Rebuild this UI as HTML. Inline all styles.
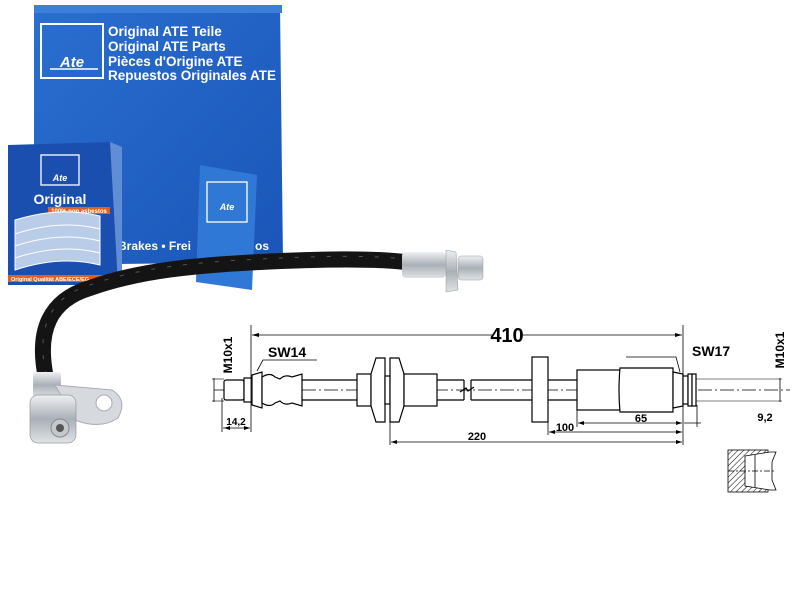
<!DOCTYPE html>
<html><head><meta charset="utf-8"><style>
html,body{margin:0;padding:0;background:#fff;}
svg{display:block;}
</style></head><body>
<svg width="810" height="610" viewBox="0 0 810 610" xmlns="http://www.w3.org/2000/svg" font-family="Liberation Sans, sans-serif">
<defs>
<linearGradient id="bl" x1="0" y1="0" x2="1" y2="1"><stop offset="0" stop-color="#2a6fd0"/><stop offset="1" stop-color="#1a55b8"/></linearGradient>
<linearGradient id="met" x1="0" y1="0" x2="0" y2="1"><stop offset="0" stop-color="#eef0f2"/><stop offset="0.5" stop-color="#a9b0b7"/><stop offset="1" stop-color="#dfe3e6"/></linearGradient>
<pattern id="hatch" width="4" height="4" patternUnits="userSpaceOnUse" patternTransform="rotate(45)"><line x1="0" y1="0" x2="0" y2="4" stroke="#000" stroke-width="1"/></pattern>
</defs>
<polygon points="34,7 280,5 283,262 34,265" fill="url(#bl)"/>
<rect x="34" y="5" width="248" height="8" fill="#3b7fd8"/>
<rect x="41" y="24" width="62" height="54" fill="none" stroke="#fff" stroke-width="2"/>
<text x="72" y="67" fill="#fff" font-size="15" font-style="italic" font-weight="bold" text-anchor="middle">Ate</text>
<line x1="50" y1="69" x2="98" y2="69" stroke="#fff" stroke-width="1.5"/>
<g fill="#fff" font-size="13.5" font-weight="bold">
<text x="108" y="36">Original ATE Teile</text>
<text x="108" y="51">Original ATE Parts</text>
<text x="108" y="66">Pièces d'Origine ATE</text>
<text x="108" y="80">Repuestos Originales ATE</text>
<text x="118" y="250" font-size="12">Brakes • Frei</text>
<text x="255" y="250" font-size="12">os</text>
</g>
<polygon points="200,165 257,175 252,290 196,282" fill="#2f78d6"/>
<rect x="207" y="182" width="40" height="40" fill="none" stroke="#fff" stroke-width="1.3"/>
<text x="227" y="210" fill="#fff" font-size="9" font-style="italic" font-weight="bold" text-anchor="middle">Ate</text>
<polygon points="8,145 110,142 120,150 118,285 8,285" fill="#1a4fb0"/>
<polygon points="110,142 122,147 122,282 118,285" fill="#5f8ed6"/>
<rect x="41" y="155" width="38" height="30" fill="none" stroke="#fff" stroke-width="1.3"/>
<text x="60" y="181" fill="#fff" font-size="9" font-style="italic" font-weight="bold" text-anchor="middle">Ate</text>
<text x="60" y="204" fill="#fff" font-size="14" font-weight="bold" text-anchor="middle">Original</text>
<rect x="48" y="207" width="62" height="7" fill="#e2601c"/>
<text x="79" y="213" fill="#fff" font-size="6" font-weight="bold" text-anchor="middle">100% non asbestos</text>
<g fill="#b9cde8" stroke="#fff" stroke-width="1">
<path d="M15,270 Q60,255 100,265 L100,252 Q60,242 15,256Z"/>
<path d="M15,258 Q60,243 100,253 L100,240 Q60,230 15,244Z"/>
<path d="M15,246 Q60,231 100,241 L100,228 Q60,218 15,232Z"/>
<path d="M15,234 Q60,219 100,229 L100,216 Q60,206 15,220Z"/>
</g>
<rect x="8" y="275" width="106" height="7" fill="#e2601c"/>
<text x="11" y="281" fill="#fff" font-size="5.5" font-weight="bold">Original Qualität  ABE/ECE/EG</text>
<path d="M46,378 C36,330 50,300 90,288 C140,270 200,265 260,262 C320,259 370,258 405,262" fill="none" stroke="#141414" stroke-width="16"/>
<path d="M46,378 C36,330 50,300 90,288 C140,270 200,265 260,262 C320,259 370,258 405,262" fill="none" stroke="#555" stroke-width="1" stroke-dasharray="4 12" transform="translate(0,-3)"/>
<rect x="402" y="252" width="44" height="26" rx="4" fill="url(#met)"/>
<polygon points="446,250 456,252 458,290 446,292" fill="url(#met)" stroke="#999" stroke-width="0.5"/>
<rect x="458" y="256" width="25" height="24" rx="3" fill="url(#met)" stroke="#999" stroke-width="0.5"/>
<rect x="33" y="372" width="28" height="26" rx="3" fill="url(#met)"/>
<path d="M55,385 L112,390 Q128,400 118,418 Q100,430 75,420 Z" fill="#d6dade" stroke="#aab" stroke-width="1"/>
<circle cx="104" cy="403" r="8" fill="#fff" stroke="#aab"/>
<rect x="30" y="395" width="46" height="48" rx="8" fill="url(#met)" stroke="#999" stroke-width="0.7"/>
<circle cx="60" cy="428" r="9" fill="#c4c9ce" stroke="#888"/>
<circle cx="60" cy="428" r="4" fill="#555"/>
<g stroke="#000" stroke-width="1.2" fill="none">
<line x1="214" y1="390" x2="790" y2="390" stroke-width="0.8" stroke-dasharray="14 3 2 3"/>
<rect x="224" y="380" width="20" height="20" rx="2" fill="#fff"/>
<rect x="244" y="378" width="8" height="24" fill="#fff"/>
<polygon points="252,375 262,372 262,408 252,405" fill="#fff"/>
<path d="M262,377 Q270,372 275,377 L280,379 Q285,374 292,377 L302,374 L302,406 L292,403 Q285,406 280,401 L275,403 Q270,408 262,403Z" fill="#fff"/>
<line x1="302" y1="380" x2="357" y2="380"/><line x1="302" y1="400" x2="357" y2="400"/>
<rect x="357" y="374" width="14" height="32" fill="#fff"/>
<polygon points="371,374 376,358 385,358 385,422 376,422 371,406" fill="#fff"/>
<rect x="385" y="376" width="5" height="28" fill="#fff"/>
<polygon points="390,358 399,358 404,374 404,406 399,422 390,422" fill="#fff"/>
<rect x="404" y="374" width="33" height="32" fill="#fff"/>
<line x1="437" y1="380" x2="464" y2="380"/><line x1="437" y1="400" x2="464" y2="400"/>
<path d="M464,380 L464,400 M471,380 L471,400 M460,392 L466,388 L468,391 L474,387"/>
<line x1="471" y1="380" x2="532" y2="380"/><line x1="471" y1="400" x2="532" y2="400"/>
<rect x="532" y="357" width="16" height="65" fill="#fff"/>
<line x1="548" y1="380" x2="577" y2="380"/><line x1="548" y1="400" x2="577" y2="400"/>
<rect x="577" y="370" width="43" height="40" fill="#fff"/>
<path d="M620,368 L673,368 L673,412 L620,412 Q618,390 620,368Z" fill="#fff"/>
<polygon points="673,372 683,374 683,406 673,408" fill="#fff"/>
<rect x="683" y="376" width="5" height="28" fill="#fff"/>
<rect x="688" y="374" width="4" height="32" fill="#fff"/>
<rect x="692" y="374" width="4" height="32" fill="#fff"/>
<line x1="251" y1="325" x2="251" y2="432" stroke-width="0.8"/>
<line x1="683" y1="325" x2="683" y2="445" stroke-width="0.8"/>
<line x1="252" y1="335" x2="492" y2="335" stroke-width="0.8"/>
<line x1="522" y1="335" x2="682" y2="335" stroke-width="0.8"/>
<line x1="222" y1="398" x2="222" y2="432" stroke-width="0.8"/>
<line x1="223" y1="428" x2="250" y2="428" stroke-width="0.8"/>
<line x1="214" y1="378" x2="214" y2="402" stroke-width="0.8"/>
<line x1="212" y1="379" x2="224" y2="379" stroke-width="0.6"/><line x1="212" y1="401" x2="224" y2="401" stroke-width="0.6"/>
<line x1="780" y1="378" x2="780" y2="402" stroke-width="0.8"/>
<line x1="696" y1="379" x2="782" y2="379" stroke-width="0.6"/><line x1="696" y1="401" x2="782" y2="401" stroke-width="0.6"/>
<line x1="390" y1="422" x2="390" y2="445" stroke-width="0.8"/>
<line x1="391" y1="442" x2="682" y2="442" stroke-width="0.8"/>
<line x1="548" y1="422" x2="548" y2="435" stroke-width="0.8"/>
<line x1="549" y1="432" x2="682" y2="432" stroke-width="0.8"/>
<line x1="577" y1="410" x2="577" y2="427" stroke-width="0.8"/>
<line x1="578" y1="423" x2="682" y2="423" stroke-width="0.8"/>
<line x1="697" y1="405" x2="697" y2="427" stroke-width="0.8"/>
<line x1="684" y1="423" x2="701" y2="423" stroke-width="0.8"/>
<polyline points="257,371 263,360 317,360" stroke-width="0.8"/>
<polyline points="680,372 676,357 626,357" stroke-width="0.8"/>
</g>
<g fill="#000">
<polygon points="252,335 259,333 259,337"/><polygon points="682,335 675,333 675,337"/>
<polygon points="224,428 230,426 230,430"/><polygon points="250,428 244,426 244,430"/>
<polygon points="391,442 397,440 397,444"/><polygon points="682,442 676,440 676,444"/>
<polygon points="549,432 555,430 555,434"/><polygon points="682,432 676,430 676,434"/>
<polygon points="578,423 584,421 584,425"/><polygon points="682,423 676,421 676,425"/>
</g>
<g font-weight="bold" fill="#000">
<text x="507" y="342" font-size="20" text-anchor="middle">410</text>
<text x="268" y="357" font-size="14">SW14</text>
<text x="692" y="356" font-size="14">SW17</text>
<text x="236" y="425" font-size="10" text-anchor="middle">14,2</text>
<text x="477" y="440" font-size="11" text-anchor="middle">220</text>
<text x="565" y="431" font-size="11" text-anchor="middle">100</text>
<text x="641" y="422" font-size="11" text-anchor="middle">65</text>
<text x="765" y="421" font-size="11" text-anchor="middle">9,2</text>
<text transform="translate(232,355) rotate(-90)" font-size="12" text-anchor="middle">M10x1</text>
<text transform="translate(784,350) rotate(-90)" font-size="12" text-anchor="middle">M10x1</text>
</g>
<g stroke="#000" stroke-width="0.8">
<rect x="728" y="450" width="40" height="42" fill="url(#hatch)"/>
<polygon points="745,456 770,452 776,452 772,462 772,480 776,490 770,490 745,486" fill="#fff"/>
<line x1="728" y1="471" x2="776" y2="471" stroke-dasharray="6 2 2 2"/>
<line x1="755" y1="455" x2="755" y2="487"/>
</g>
</svg>
</body></html>
